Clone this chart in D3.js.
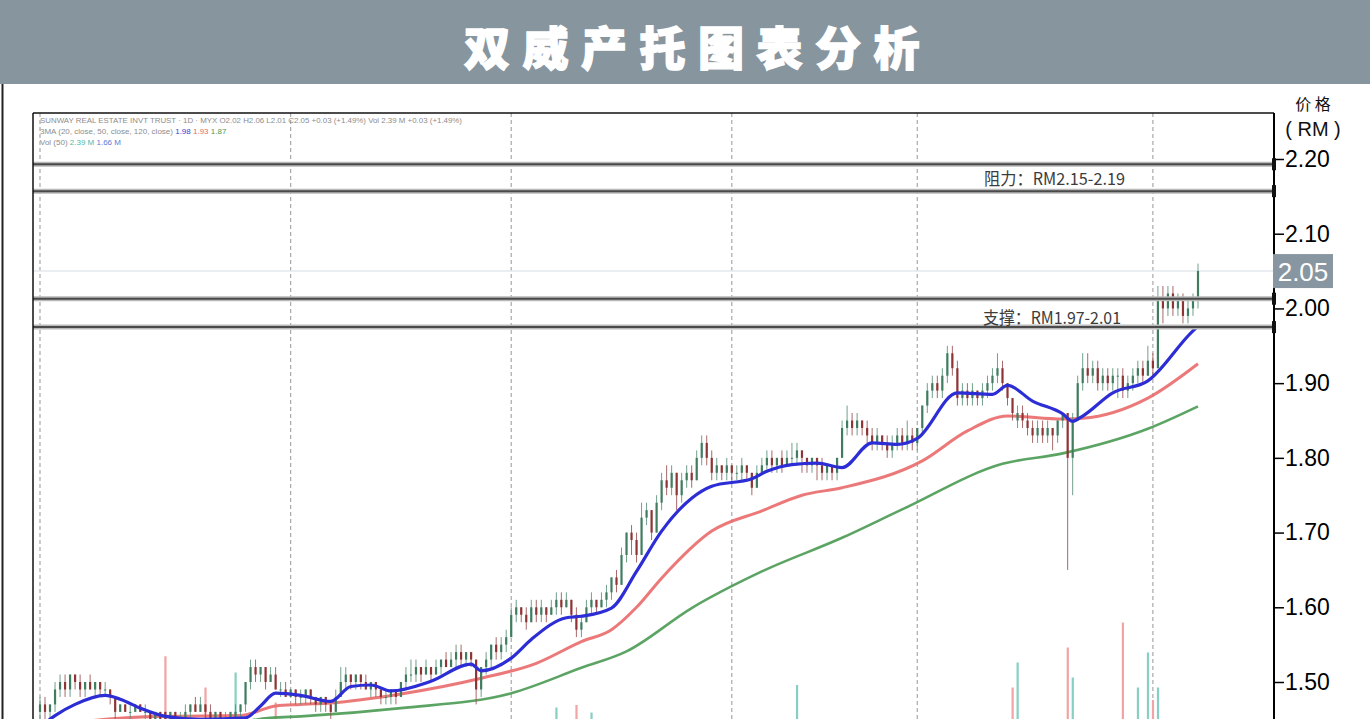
<!DOCTYPE html>
<html><head><meta charset="utf-8">
<script src="https://cdn.jsdelivr.net/npm/d3@7/dist/d3.min.js"></script>
<style>
html,body{margin:0;padding:0;background:#fff;overflow:hidden;}
svg{display:block;}
</style></head>
<body>
<svg id="c" width="1370" height="719"></svg>
<script>
// ---------------- DATA ----------------
const title = "双威产托图表分析";
const axisTitle1 = "价 格";
const axisTitle2 = "( RM )";
const priceTicks = [1.50, 1.60, 1.70, 1.80, 1.90, 2.00, 2.10, 2.20];
const lastPrice = 2.05;
const resistance = [2.193, 2.157];
const support = [2.013, 1.975];
const resistanceLabel = "阻力：RM2.15-2.19";
const supportLabel = "支撑：RM1.97-2.01";
const gridIdx = [0, 50, 94, 138, 175, 222];
const legend1 = "SUNWAY REAL ESTATE INVT TRUST · 1D · MYX  O2.02  H2.06  L2.01  C2.05  +0.03 (+1.49%)   Vol 2.39 M  +0.03 (+1.49%)";
const legend2 = "3MA (20, close, 50, close, 120, close)";
const legend2Vals = ["1.98", "1.93", "1.87"];
const legend3 = "Vol (50)";
const legend3Vals = ["2.39 M", "1.66 M"];

const opens = [
1.46,1.47,1.46,1.47,1.49,1.50,1.49,1.51,1.50,1.49,
1.50,1.49,1.50,1.49,1.49,1.48,1.46,1.47,1.46,1.46,
1.47,1.46,1.46,1.45,1.46,1.46,1.45,1.46,1.45,1.45,
1.46,1.47,1.46,1.47,1.46,1.45,1.46,1.45,1.45,1.45,
1.46,1.47,1.50,1.52,1.51,1.52,1.50,1.51,1.49,1.49,
1.48,1.49,1.48,1.48,1.49,1.48,1.47,1.48,1.47,1.46,
1.48,1.50,1.51,1.50,1.51,1.50,1.49,1.50,1.49,1.48,
1.48,1.49,1.48,1.50,1.51,1.51,1.52,1.51,1.52,1.51,
1.52,1.53,1.52,1.53,1.54,1.53,1.54,1.53,1.49,1.52,
1.53,1.55,1.54,1.55,1.56,1.59,1.60,1.59,1.58,1.60,
1.59,1.60,1.59,1.60,1.61,1.60,1.61,1.59,1.57,1.58,
1.60,1.61,1.60,1.61,1.62,1.64,1.63,1.67,1.70,1.69,
1.67,1.72,1.73,1.70,1.74,1.77,1.76,1.78,1.75,1.77,
1.78,1.77,1.80,1.82,1.80,1.78,1.79,1.78,1.79,1.78,
1.78,1.79,1.78,1.76,1.78,1.79,1.80,1.79,1.80,1.79,
1.80,1.80,1.81,1.80,1.79,1.80,1.79,1.78,1.79,1.78,
1.80,1.84,1.85,1.84,1.85,1.84,1.83,1.82,1.83,1.82,
1.81,1.82,1.83,1.82,1.83,1.82,1.84,1.87,1.89,1.90,
1.89,1.91,1.94,1.92,1.88,1.89,1.88,1.89,1.88,1.89,
1.90,1.91,1.92,1.90,1.88,1.85,1.86,1.85,1.84,1.83,
1.84,1.83,1.84,1.83,1.85,1.86,1.80,1.85,1.90,1.92,
1.91,1.92,1.90,1.91,1.90,1.91,1.91,1.89,1.90,1.91,
1.92,1.91,1.93,1.92,2.01,2.00,2.02,2.00,2.01,1.99,2.00,2.01];

const closes = [
1.47,1.46,1.47,1.49,1.50,1.49,1.51,1.50,1.49,1.50,
1.49,1.50,1.49,1.49,1.48,1.46,1.47,1.46,1.46,1.47,
1.46,1.46,1.45,1.46,1.45,1.45,1.46,1.45,1.45,1.46,
1.47,1.46,1.47,1.46,1.45,1.46,1.45,1.45,1.46,1.46,
1.47,1.50,1.52,1.51,1.52,1.50,1.51,1.49,1.49,1.48,
1.49,1.48,1.48,1.49,1.48,1.47,1.48,1.47,1.46,1.48,
1.50,1.51,1.50,1.51,1.50,1.49,1.50,1.49,1.48,1.48,
1.49,1.48,1.50,1.51,1.51,1.52,1.51,1.52,1.51,1.52,
1.53,1.52,1.53,1.54,1.53,1.54,1.53,1.49,1.52,1.53,
1.55,1.54,1.55,1.56,1.59,1.60,1.59,1.58,1.60,1.59,
1.60,1.59,1.60,1.61,1.60,1.61,1.59,1.57,1.58,1.60,
1.61,1.60,1.61,1.62,1.64,1.63,1.67,1.70,1.69,1.67,
1.72,1.73,1.70,1.74,1.77,1.76,1.78,1.75,1.77,1.78,
1.77,1.80,1.82,1.80,1.78,1.79,1.78,1.79,1.78,1.78,
1.79,1.78,1.76,1.78,1.79,1.80,1.79,1.80,1.79,1.80,
1.80,1.81,1.80,1.79,1.80,1.79,1.78,1.79,1.78,1.80,
1.84,1.85,1.84,1.85,1.84,1.83,1.82,1.83,1.82,1.81,
1.82,1.83,1.82,1.83,1.82,1.84,1.87,1.89,1.90,1.89,
1.91,1.94,1.92,1.88,1.89,1.88,1.89,1.88,1.89,1.90,
1.91,1.92,1.90,1.88,1.86,1.86,1.85,1.84,1.83,1.84,
1.83,1.84,1.83,1.85,1.86,1.80,1.85,1.90,1.92,1.91,
1.92,1.90,1.91,1.90,1.91,1.91,1.89,1.90,1.91,1.92,
1.91,1.93,1.92,2.01,2.00,2.02,2.00,2.01,1.99,2.00,2.01,2.05];

const highs = [
1.48,1.48,1.47,1.50,1.51,1.51,1.51,1.51,1.51,1.50,
1.51,1.50,1.50,1.50,1.49,1.48,1.47,1.47,1.47,1.47,
1.47,1.47,1.46,1.46,1.46,1.46,1.46,1.46,1.46,1.47,
1.47,1.48,1.48,1.47,1.47,1.46,1.46,1.46,1.46,1.47,
1.47,1.50,1.53,1.53,1.52,1.52,1.52,1.52,1.50,1.50,
1.49,1.49,1.49,1.49,1.49,1.48,1.48,1.48,1.47,1.49,
1.52,1.52,1.51,1.51,1.51,1.51,1.50,1.50,1.49,1.49,
1.49,1.49,1.50,1.52,1.53,1.53,1.52,1.53,1.52,1.53,
1.53,1.54,1.54,1.55,1.55,1.54,1.54,1.53,1.52,1.54,
1.55,1.56,1.56,1.57,1.60,1.61,1.60,1.60,1.61,1.61,
1.61,1.60,1.61,1.62,1.62,1.62,1.61,1.60,1.59,1.61,
1.62,1.61,1.62,1.63,1.64,1.65,1.68,1.70,1.71,1.70,
1.74,1.74,1.73,1.75,1.78,1.79,1.79,1.78,1.78,1.79,
1.79,1.81,1.83,1.83,1.81,1.80,1.79,1.80,1.79,1.79,
1.80,1.79,1.78,1.79,1.80,1.81,1.81,1.80,1.81,1.81,
1.82,1.82,1.81,1.80,1.80,1.80,1.80,1.79,1.79,1.80,
1.85,1.87,1.86,1.86,1.85,1.85,1.84,1.84,1.83,1.83,
1.83,1.84,1.84,1.85,1.84,1.84,1.87,1.90,1.91,1.91,
1.92,1.95,1.95,1.93,1.90,1.90,1.90,1.89,1.90,1.91,
1.92,1.94,1.93,1.90,1.88,1.87,1.87,1.86,1.85,1.85,
1.85,1.85,1.84,1.85,1.86,1.86,1.86,1.91,1.94,1.94,
1.93,1.93,1.92,1.92,1.92,1.92,1.92,1.91,1.92,1.93,
1.93,1.95,1.94,2.03,2.03,2.03,2.03,2.02,2.02,2.01,2.02,2.06];

const lows = [
1.45,1.45,1.45,1.46,1.48,1.48,1.48,1.49,1.48,1.48,
1.49,1.48,1.48,1.48,1.47,1.45,1.46,1.46,1.45,1.46,
1.46,1.45,1.45,1.45,1.44,1.44,1.44,1.45,1.44,1.45,
1.45,1.46,1.46,1.45,1.45,1.45,1.44,1.44,1.44,1.44,
1.44,1.46,1.49,1.50,1.50,1.49,1.50,1.49,1.48,1.48,
1.48,1.47,1.47,1.47,1.47,1.46,1.46,1.46,1.45,1.46,
1.48,1.49,1.49,1.49,1.49,1.49,1.48,1.48,1.47,1.47,
1.47,1.47,1.48,1.49,1.50,1.50,1.50,1.51,1.50,1.51,
1.51,1.52,1.52,1.52,1.52,1.52,1.52,1.47,1.48,1.51,
1.52,1.53,1.53,1.54,1.56,1.58,1.58,1.57,1.58,1.58,
1.58,1.58,1.59,1.59,1.59,1.60,1.58,1.56,1.56,1.58,
1.59,1.59,1.60,1.60,1.61,1.62,1.63,1.66,1.67,1.66,
1.67,1.71,1.69,1.70,1.73,1.75,1.75,1.73,1.74,1.76,
1.76,1.77,1.79,1.79,1.77,1.77,1.77,1.77,1.77,1.77,
1.77,1.77,1.75,1.76,1.78,1.78,1.78,1.78,1.78,1.79,
1.79,1.79,1.78,1.78,1.78,1.77,1.77,1.77,1.77,1.77,
1.80,1.83,1.83,1.83,1.83,1.82,1.81,1.81,1.81,1.80,
1.80,1.81,1.81,1.81,1.81,1.81,1.83,1.86,1.88,1.88,
1.88,1.90,1.91,1.87,1.87,1.87,1.87,1.87,1.87,1.88,
1.89,1.90,1.89,1.87,1.85,1.84,1.84,1.83,1.82,1.82,
1.82,1.82,1.81,1.82,1.84,1.65,1.75,1.85,1.89,1.90,
1.90,1.89,1.89,1.89,1.89,1.88,1.88,1.88,1.89,1.90,
1.90,1.91,1.91,1.92,1.98,1.99,1.99,1.99,1.98,1.98,1.99,2.00];

// volume, millions
const volumes = [
2.1,1.8,1.5,2.6,2.9,1.7,2.2,1.6,1.4,1.2,
1.3,1.1,1.5,1.2,1.6,2.8,1.4,1.1,1.0,0.9,
1.2,1.0,1.3,0.9,1.5,8.3,1.4,1.2,1.0,1.1,
1.3,2.0,1.6,5.8,1.7,1.2,1.0,1.4,1.6,7.0,
2.4,3.0,2.8,2.2,1.9,2.0,1.7,4.6,1.5,1.3,
1.2,1.4,1.1,1.0,1.3,1.5,1.1,1.2,1.6,1.8,
2.5,2.2,1.6,1.4,1.3,1.5,1.2,1.1,1.4,1.2,
1.0,1.3,1.9,2.3,1.8,1.6,1.4,1.5,1.2,1.6,
1.8,1.4,1.5,2.0,1.7,1.3,1.4,2.9,2.4,1.8,
2.2,1.6,1.8,2.1,3.0,2.7,1.9,2.0,2.4,1.7,
1.8,1.6,1.9,4.2,2.1,2.5,2.3,4.4,2.6,2.9,
3.8,2.0,1.9,2.4,2.8,2.2,3.1,3.2,2.6,2.4,
3.0,2.7,2.5,2.9,3.1,2.4,2.6,2.2,2.0,2.3,
1.9,2.8,3.2,2.4,2.1,1.8,1.6,1.9,1.7,1.5,
1.6,1.4,2.2,1.8,1.6,1.9,1.5,1.7,1.4,1.8,
2.0,6.0,1.8,1.5,1.4,1.6,1.7,1.3,1.4,2.1,
3.0,2.8,2.2,1.9,1.6,1.8,2.0,1.7,1.5,1.6,
1.4,1.7,1.5,1.8,1.6,2.0,2.9,3.2,2.8,2.3,
2.7,3.2,2.9,2.6,2.1,2.0,1.8,1.9,1.7,2.0,
2.2,2.6,2.3,2.5,5.8,7.8,2.4,2.1,2.0,1.8,
1.9,1.7,2.2,2.0,2.4,9.0,6.6,3.2,2.9,2.4,
2.2,2.0,1.8,2.1,1.9,2.6,11.0,2.8,3.0,5.8,
2.9,8.6,4.8,5.8,3.2,3.0,2.7,2.6,2.5,2.9,3.1,2.4];

// moving averages: [bar index, value]
const ma20 = [[0,1.44],[3,1.455],[7,1.47],[13,1.482],[16,1.477],[20,1.465],[25,1.454],[32,1.45],[41,1.452],[44,1.468],[47,1.485],[52,1.482],[58,1.474],[62,1.494],[66,1.496],[70,1.488],[78,1.501],[86,1.524],[88,1.515],[94,1.532],[98,1.557],[105,1.586],[108,1.588],[114,1.599],[119,1.648],[124,1.702],[130,1.746],[134,1.762],[142,1.772],[145,1.782],[150,1.791],[155,1.793],[160,1.787],[166,1.820],[171,1.818],[175,1.826],[183,1.887],[190,1.885],[193,1.897],[198,1.876],[204,1.859],[206,1.849],[208,1.856],[214,1.887],[221,1.903],[230,1.970],[231,1.976]];
const ma50 = [[0,1.43],[10,1.448],[25,1.454],[40,1.455],[47,1.468],[52,1.470],[58,1.472],[72,1.484],[88,1.505],[99,1.525],[108,1.554],[114,1.570],[119,1.600],[124,1.639],[134,1.702],[144,1.729],[152,1.750],[160,1.760],[176,1.796],[185,1.836],[193,1.856],[204,1.852],[208,1.853],[221,1.880],[231,1.926]];
const ma120 = [[30,1.43],[46,1.452],[52,1.454],[72,1.465],[94,1.485],[108,1.519],[117,1.541],[130,1.599],[144,1.648],[160,1.693],[172,1.731],[192,1.792],[204,1.806],[221,1.839],[231,1.869]];

// ---------------- DRAW ----------------
const svg = d3.select("#c");
const W = 1370, H = 719;
const box = {l:33, t:113, r:1274, b:760};

const x = d3.scaleLinear().domain([0, closes.length-1]).range([40, 1198]);
const y = d3.scaleLinear().domain([1.50, 2.20]).range([682, 159]);
const yv = d3.scaleLinear().domain([0, 12]).range([760, 610]);

// header
svg.append("rect").attr("x",0).attr("y",0).attr("width",W).attr("height",84).attr("fill","#87959f");
svg.append("text").attr("x",698).attr("y",45)
  .attr("text-anchor","middle").attr("dominant-baseline","central")
  .attr("fill","#fff").attr("stroke","#fff").attr("stroke-width",1.4)
  .style("font-family","'Noto Sans CJK SC', sans-serif").style("font-weight",900)
  .style("font-size","46px").style("letter-spacing","12.5px").text(title);

// outer left border
svg.append("line").attr("x1",2.5).attr("x2",2.5).attr("y1",84).attr("y2",H).attr("stroke","#222").attr("stroke-width",2);

// clip
svg.append("defs").append("clipPath").attr("id","clip").append("rect")
  .attr("x",box.l).attr("y",box.t).attr("width",box.r-box.l).attr("height",box.b-box.t);
const g = svg.append("g").attr("clip-path","url(#clip)");

// vertical dashed grid
g.selectAll("line.grid").data(gridIdx).join("line").attr("class","grid")
  .attr("x1",d=>x(d)).attr("x2",d=>x(d)).attr("y1",box.t).attr("y2",box.b)
  .attr("stroke","#a8a8a8").attr("stroke-width",1.2).attr("stroke-dasharray","4,3");

// faint last-price line
g.append("line").attr("x1",box.l).attr("x2",box.r).attr("y1",y(lastPrice)).attr("y2",y(lastPrice))
  .attr("stroke","#e4e8ec").attr("stroke-width",1.5);

// volume bars
const up = i => closes[i] >= opens[i];
g.selectAll("rect.vol").data(volumes).join("rect").attr("class","vol")
  .attr("x",(d,i)=>x(i)-1).attr("width",2.2)
  .attr("y",d=>yv(d)).attr("height",d=>yv(0)-yv(d))
  .attr("fill",(d,i)=>up(i)?"#86cfc2":"#f2a3a3");

// moving averages
const line = d3.line().x(d=>x(d[0])).y(d=>y(d[1])).curve(d3.curveMonotoneX);
g.append("path").datum(ma120).attr("d",line).attr("fill","none").attr("stroke","#4a9a52").attr("stroke-width",2.6).attr("opacity",0.9);
g.append("path").datum(ma50).attr("d",line).attr("fill","none").attr("stroke","#ea6a6a").attr("stroke-width",3).attr("opacity",0.9);

// candles
const idx = d3.range(closes.length);
g.selectAll("line.wick").data(idx).join("line").attr("class","wick")
  .attr("x1",i=>x(i)).attr("x2",i=>x(i)).attr("y1",i=>y(highs[i])).attr("y2",i=>y(lows[i]))
  .attr("stroke",i=>up(i)?"#5b8f78":"#9a5050").attr("stroke-width",1).attr("opacity",0.85);
g.selectAll("rect.body").data(idx).join("rect").attr("class","body")
  .attr("x",i=>x(i)-1.1).attr("width",2.2)
  .attr("y",i=>y(Math.max(opens[i],closes[i])))
  .attr("height",i=>Math.max(1,Math.abs(y(opens[i])-y(closes[i]))))
  .attr("fill",i=>up(i)?"#3f7c60":"#8e3434");

g.append("path").datum(ma20).attr("d",line).attr("fill","none").attr("stroke","#2d2dd6").attr("stroke-width",3.2);

// level lines
const levels = resistance.concat(support);
g.selectAll("line.lvlbg").data(levels).join("line").attr("class","lvlbg")
  .attr("x1",box.l).attr("x2",box.r).attr("y1",d=>y(d)).attr("y2",d=>y(d))
  .attr("stroke","#b9b9b9").attr("stroke-width",5);
g.selectAll("line.lvl").data(levels).join("line").attr("class","lvl")
  .attr("x1",box.l).attr("x2",box.r).attr("y1",d=>y(d)).attr("y2",d=>y(d))
  .attr("stroke","#4a4a4a").attr("stroke-width",2);

// level labels
const lblFont = "'Noto Sans CJK SC', sans-serif";
svg.append("text").attr("x",984).attr("y",(y(resistance[0])+y(resistance[1]))/2)
  .attr("dominant-baseline","central").attr("fill","#3c3c3c")
  .attr("textLength",141).attr("lengthAdjust","spacingAndGlyphs")
  .style("font-family",lblFont).style("font-size","17px").text(resistanceLabel);
svg.append("text").attr("x",983).attr("y",(y(support[0])+y(support[1]))/2+4)
  .attr("dominant-baseline","central").attr("fill","#3c3c3c")
  .attr("textLength",138).attr("lengthAdjust","spacingAndGlyphs")
  .style("font-family",lblFont).style("font-size","17px").text(supportLabel);

// legend texts
const lg = svg.append("g").style("font-family","'Liberation Sans', Arial, sans-serif").style("font-size","8px").attr("fill","#8c8c8c");
lg.append("text").attr("x",40).attr("y",123).attr("textLength",422).attr("lengthAdjust","spacingAndGlyphs").text(legend1);
const t2 = lg.append("text").attr("x",40).attr("y",134);
t2.append("tspan").text(legend2 + "  ");
const maCols = ["#3a3ad8","#e86a6a","#4a9a52"];
legend2Vals.forEach((v,i)=>t2.append("tspan").attr("fill",maCols[i]).text(v + "  "));
const t3 = lg.append("text").attr("x",40).attr("y",145);
t3.append("tspan").text(legend3 + "  ");
const vCols = ["#4fb8a8","#5a7ad8"];
legend3Vals.forEach((v,i)=>t3.append("tspan").attr("fill",vCols[i]).text(v + "  "));

// chart frame (top + left)
svg.append("line").attr("x1",box.l).attr("x2",box.r).attr("y1",box.t).attr("y2",box.t).attr("stroke","#111").attr("stroke-width",1.5);
svg.append("line").attr("x1",box.l).attr("x2",box.l).attr("y1",box.t).attr("y2",H).attr("stroke","#111").attr("stroke-width",1.5);

// right axis
const ax = svg.append("g").attr("transform",`translate(${box.r},0)`)
  .call(d3.axisRight(y).tickValues(priceTicks).tickFormat(d3.format(".2f")).tickSize(10).tickPadding(1));
ax.select(".domain").remove();
ax.selectAll(".tick line").attr("stroke","#000").attr("stroke-width",1.5);
ax.selectAll(".tick text").attr("fill","#000")
  .style("font-family","'Liberation Sans', Arial, sans-serif").style("font-size","23px");
svg.append("line").attr("x1",box.r).attr("x2",box.r).attr("y1",box.t).attr("y2",H).attr("stroke","#000").attr("stroke-width",2);

// level markers on axis
svg.selectAll("rect.mk").data(levels).join("rect").attr("class","mk")
  .attr("x",box.r-2).attr("width",4).attr("y",d=>y(d)-6).attr("height",12).attr("fill","#111");

// last price tag
const tagY = y(lastPrice);
svg.append("rect").attr("x",1273).attr("y",tagY-17).attr("width",60).attr("height",34).attr("fill","#8796a0");
svg.append("text").attr("x",1303).attr("y",tagY+1).attr("text-anchor","middle").attr("dominant-baseline","central")
  .attr("fill","#fff").style("font-family","'Liberation Sans', Arial, sans-serif").style("font-size","26px").text(d3.format(".2f")(lastPrice));

// axis title
svg.append("text").attr("x",1313).attr("y",103).attr("text-anchor","middle").attr("dominant-baseline","central")
  .attr("fill","#111").style("font-family","'Noto Sans CJK SC', sans-serif").style("font-size","16px").text(axisTitle1);
svg.append("text").attr("x",1313).attr("y",129).attr("text-anchor","middle").attr("dominant-baseline","central")
  .attr("fill","#111").style("font-family","'Liberation Sans', Arial, sans-serif").style("font-size","20px").text(axisTitle2);
</script>
</body></html>
